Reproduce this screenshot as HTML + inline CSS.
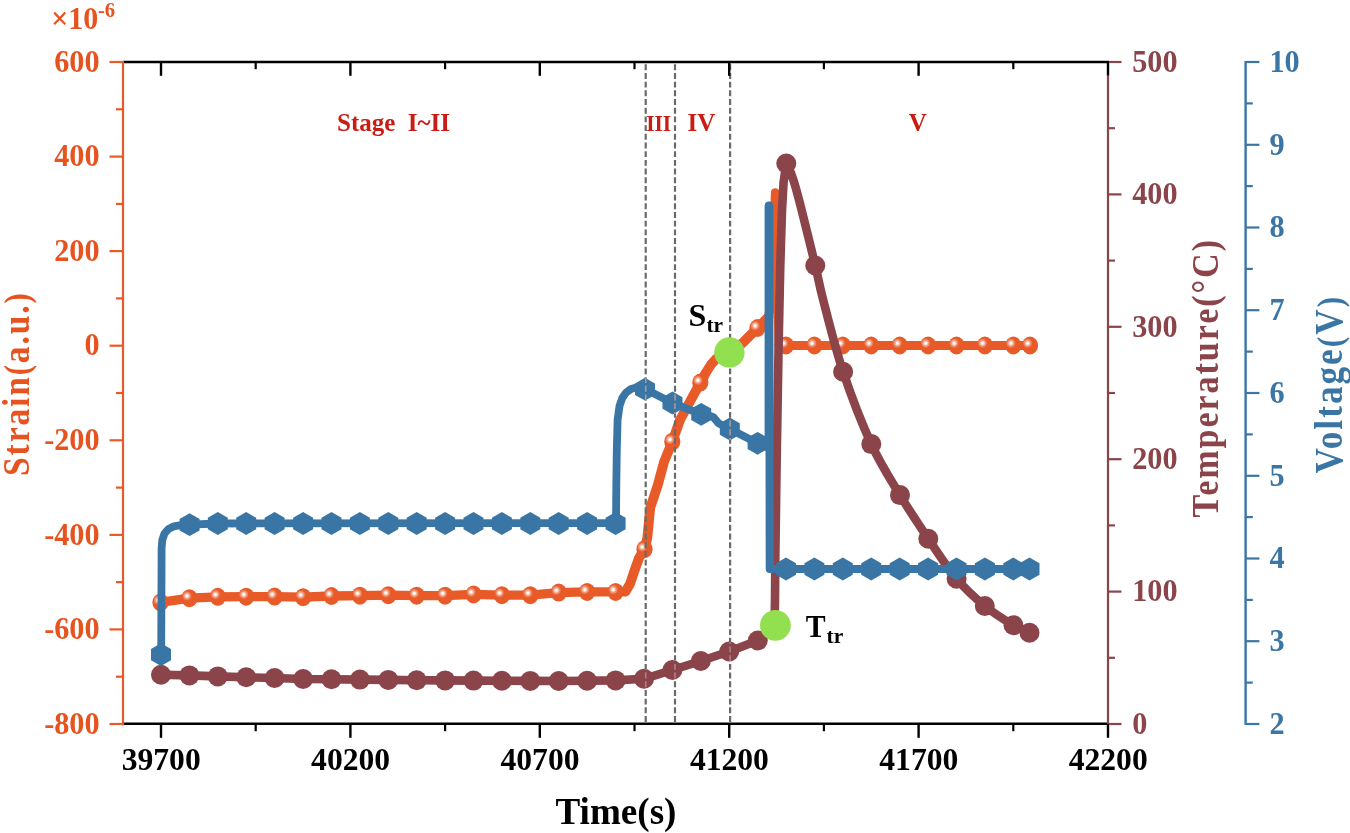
<!DOCTYPE html>
<html><head><meta charset="utf-8"><title>Chart</title>
<style>
html,body{margin:0;padding:0;background:#fff;}
body{width:1350px;height:833px;overflow:hidden;}
svg{display:block;will-change:transform;}
text{font-family:"Liberation Serif",serif;font-weight:bold;}
</style></head><body>
<svg width="1350" height="833" viewBox="0 0 1350 833">
<defs>
<radialGradient id="sph" cx="0.5" cy="0.5" r="0.5"><stop offset="0" stop-color="#fff" stop-opacity="1"/><stop offset="0.2" stop-color="#fff" stop-opacity="0.95"/><stop offset="0.55" stop-color="#fff" stop-opacity="0.42"/><stop offset="1" stop-color="#fff" stop-opacity="0"/></radialGradient>
</defs>
<rect width="1350" height="833" fill="#fff"/>
<g id="orange">
<polyline fill="none" stroke="#E85A28" stroke-width="9.3" stroke-linejoin="round" stroke-linecap="round" points="160.5,602.4 189.4,598.2 217.8,596.8 246.2,596.7 274.6,596.6 303.1,597.2 331.5,596.0 359.9,595.7 388.3,595.2 416.7,595.7 445.1,595.7 473.5,594.4 501.9,595.2 530.3,595.2 558.7,592.6 587.1,591.9 615.6,591.9 625.5,591.6"/>
<polyline fill="none" stroke="#E85A28" stroke-width="9.8" stroke-linejoin="round" stroke-linecap="round" points="625.5,591.6 630.0,584.0 634.0,572.0 639.0,558.0 644.5,549.2 647.3,538.0 650.2,508.0 657.8,485.0 664.0,462.0 672.3,441.7 680.0,420.0 690.0,401.5 700.3,382.6 706.0,372.5 711.0,364.5 716.0,359.0 722.0,355.2 729.5,352.4 737.0,347.5 743.0,342.5 750.0,335.5 757.5,328.0 764.5,321.0 768.5,317.0"/>
<polyline fill="none" stroke="#E85A28" stroke-width="8.6" stroke-linejoin="round" stroke-linecap="round" points="768.5,317.0 771.0,300.0 775.2,192.5 777.5,300.0 779.0,345.5"/>
<polyline fill="none" stroke="#E85A28" stroke-width="9" stroke-linejoin="round" stroke-linecap="round" points="779.0,345.5 786.0,345.5 814.4,345.5 842.8,345.5 871.2,345.5 899.7,345.5 928.1,345.5 956.5,345.5 984.9,345.5 1013.3,345.5 1030.0,345.5"/>
<ellipse cx="160.5" cy="602.4" rx="8.1" ry="9.0" fill="#E85A28"/>
<circle cx="158.1" cy="600.1" r="5.0" fill="url(#sph)"/>
<ellipse cx="189.4" cy="598.2" rx="8.1" ry="9.0" fill="#E85A28"/>
<circle cx="187.0" cy="595.9" r="5.0" fill="url(#sph)"/>
<ellipse cx="217.8" cy="596.8" rx="8.1" ry="9.0" fill="#E85A28"/>
<circle cx="215.4" cy="594.5" r="5.0" fill="url(#sph)"/>
<ellipse cx="246.2" cy="596.7" rx="8.1" ry="9.0" fill="#E85A28"/>
<circle cx="243.8" cy="594.4" r="5.0" fill="url(#sph)"/>
<ellipse cx="274.6" cy="596.6" rx="8.1" ry="9.0" fill="#E85A28"/>
<circle cx="272.2" cy="594.3" r="5.0" fill="url(#sph)"/>
<ellipse cx="303.1" cy="597.2" rx="8.1" ry="9.0" fill="#E85A28"/>
<circle cx="300.7" cy="594.9" r="5.0" fill="url(#sph)"/>
<ellipse cx="331.5" cy="596.0" rx="8.1" ry="9.0" fill="#E85A28"/>
<circle cx="329.1" cy="593.7" r="5.0" fill="url(#sph)"/>
<ellipse cx="359.9" cy="595.7" rx="8.1" ry="9.0" fill="#E85A28"/>
<circle cx="357.5" cy="593.4" r="5.0" fill="url(#sph)"/>
<ellipse cx="388.3" cy="595.2" rx="8.1" ry="9.0" fill="#E85A28"/>
<circle cx="385.9" cy="592.9" r="5.0" fill="url(#sph)"/>
<ellipse cx="416.7" cy="595.7" rx="8.1" ry="9.0" fill="#E85A28"/>
<circle cx="414.3" cy="593.4" r="5.0" fill="url(#sph)"/>
<ellipse cx="445.1" cy="595.7" rx="8.1" ry="9.0" fill="#E85A28"/>
<circle cx="442.7" cy="593.4" r="5.0" fill="url(#sph)"/>
<ellipse cx="473.5" cy="594.4" rx="8.1" ry="9.0" fill="#E85A28"/>
<circle cx="471.1" cy="592.1" r="5.0" fill="url(#sph)"/>
<ellipse cx="501.9" cy="595.2" rx="8.1" ry="9.0" fill="#E85A28"/>
<circle cx="499.5" cy="592.9" r="5.0" fill="url(#sph)"/>
<ellipse cx="530.3" cy="595.2" rx="8.1" ry="9.0" fill="#E85A28"/>
<circle cx="527.9" cy="592.9" r="5.0" fill="url(#sph)"/>
<ellipse cx="558.7" cy="592.6" rx="8.1" ry="9.0" fill="#E85A28"/>
<circle cx="556.3" cy="590.3" r="5.0" fill="url(#sph)"/>
<ellipse cx="587.1" cy="591.9" rx="8.1" ry="9.0" fill="#E85A28"/>
<circle cx="584.8" cy="589.6" r="5.0" fill="url(#sph)"/>
<ellipse cx="615.6" cy="591.9" rx="8.1" ry="9.0" fill="#E85A28"/>
<circle cx="613.2" cy="589.6" r="5.0" fill="url(#sph)"/>
<ellipse cx="644.5" cy="549.2" rx="8.1" ry="9.0" fill="#E85A28"/>
<circle cx="642.1" cy="546.9" r="5.0" fill="url(#sph)"/>
<ellipse cx="672.3" cy="441.7" rx="8.1" ry="9.0" fill="#E85A28"/>
<circle cx="669.9" cy="439.4" r="5.0" fill="url(#sph)"/>
<ellipse cx="700.3" cy="382.6" rx="8.1" ry="9.0" fill="#E85A28"/>
<circle cx="697.9" cy="380.3" r="5.0" fill="url(#sph)"/>
<ellipse cx="757.5" cy="328.0" rx="8.1" ry="9.0" fill="#E85A28"/>
<circle cx="755.1" cy="325.7" r="5.0" fill="url(#sph)"/>
<ellipse cx="786.0" cy="345.5" rx="8.1" ry="9.0" fill="#E85A28"/>
<circle cx="783.6" cy="343.2" r="5.0" fill="url(#sph)"/>
<ellipse cx="814.4" cy="345.5" rx="8.1" ry="9.0" fill="#E85A28"/>
<circle cx="812.0" cy="343.2" r="5.0" fill="url(#sph)"/>
<ellipse cx="842.8" cy="345.5" rx="8.1" ry="9.0" fill="#E85A28"/>
<circle cx="840.4" cy="343.2" r="5.0" fill="url(#sph)"/>
<ellipse cx="871.2" cy="345.5" rx="8.1" ry="9.0" fill="#E85A28"/>
<circle cx="868.9" cy="343.2" r="5.0" fill="url(#sph)"/>
<ellipse cx="899.7" cy="345.5" rx="8.1" ry="9.0" fill="#E85A28"/>
<circle cx="897.3" cy="343.2" r="5.0" fill="url(#sph)"/>
<ellipse cx="928.1" cy="345.5" rx="8.1" ry="9.0" fill="#E85A28"/>
<circle cx="925.7" cy="343.2" r="5.0" fill="url(#sph)"/>
<ellipse cx="956.5" cy="345.5" rx="8.1" ry="9.0" fill="#E85A28"/>
<circle cx="954.1" cy="343.2" r="5.0" fill="url(#sph)"/>
<ellipse cx="984.9" cy="345.5" rx="8.1" ry="9.0" fill="#E85A28"/>
<circle cx="982.5" cy="343.2" r="5.0" fill="url(#sph)"/>
<ellipse cx="1013.3" cy="345.5" rx="8.1" ry="9.0" fill="#E85A28"/>
<circle cx="1010.9" cy="343.2" r="5.0" fill="url(#sph)"/>
<ellipse cx="1030.0" cy="345.5" rx="8.1" ry="9.0" fill="#E85A28"/>
<circle cx="1027.6" cy="343.2" r="5.0" fill="url(#sph)"/>
</g>
<g id="dash" stroke="#6a6a6a" stroke-width="2.2" stroke-dasharray="5.9 2.79" fill="none">
<line x1="645.7" y1="64.3" x2="645.7" y2="723.0"/>
<line x1="675.0" y1="64.3" x2="675.0" y2="723.0"/>
<line x1="730.1" y1="64.3" x2="730.1" y2="723.0"/>
</g>
<g id="brown">
<path d="M161.0,674.8 L189.4,675.4 L217.8,676.4 L246.2,677.3 L274.6,678.0 L303.1,679.0 L331.5,679.3 L359.9,679.6 L388.3,679.9 L416.7,680.2 L445.1,680.4 L473.5,680.6 L501.9,680.8 L530.3,680.9 L558.7,681.0 L587.1,680.8 L615.6,680.4 L644.0,678.8 L672.4,670.0 L700.8,661.0 L729.2,651.5 L757.8,640.5 L766.0,634.5 L771.5,629.0 L774.6,620.0 L775.0,600.0 L775.3,560.0 L776.5,470.0 L778.6,345.0 L780.3,265.0 L782.0,210.0 L783.6,182.0 L786.3,163.5 C788.5,165.2 790.8,172.4 793.4,180.2 C796.0,187.9 798.0,195.8 801.6,210.0 C805.2,224.2 811.7,250.5 815.3,265.5 C818.9,280.5 818.6,282.3 823.2,300.0 C827.8,317.7 835.1,347.7 843.1,371.7 C851.1,395.7 861.8,423.5 871.3,444.1 C880.8,464.7 890.5,479.3 900.0,495.1 C909.5,510.9 918.9,524.8 928.3,538.7 C937.7,552.7 947.2,567.6 956.6,578.8 C966.0,590.0 975.3,598.2 984.8,606.0 C994.3,613.8 1006.0,620.8 1013.5,625.3 C1021.0,629.8 1026.8,631.5 1029.5,632.8" fill="none" stroke="#8B444A" stroke-width="8.6" stroke-linejoin="round" stroke-linecap="round"/>
<circle cx="161.0" cy="674.8" r="10" fill="#8B444A"/>
<circle cx="189.4" cy="675.4" r="10" fill="#8B444A"/>
<circle cx="217.8" cy="676.4" r="10" fill="#8B444A"/>
<circle cx="246.2" cy="677.3" r="10" fill="#8B444A"/>
<circle cx="274.6" cy="678.0" r="10" fill="#8B444A"/>
<circle cx="303.1" cy="679.0" r="10" fill="#8B444A"/>
<circle cx="331.5" cy="679.3" r="10" fill="#8B444A"/>
<circle cx="359.9" cy="679.6" r="10" fill="#8B444A"/>
<circle cx="388.3" cy="679.9" r="10" fill="#8B444A"/>
<circle cx="416.7" cy="680.2" r="10" fill="#8B444A"/>
<circle cx="445.1" cy="680.4" r="10" fill="#8B444A"/>
<circle cx="473.5" cy="680.6" r="10" fill="#8B444A"/>
<circle cx="501.9" cy="680.8" r="10" fill="#8B444A"/>
<circle cx="530.3" cy="680.9" r="10" fill="#8B444A"/>
<circle cx="558.7" cy="681.0" r="10" fill="#8B444A"/>
<circle cx="587.1" cy="680.8" r="10" fill="#8B444A"/>
<circle cx="615.6" cy="680.4" r="10" fill="#8B444A"/>
<circle cx="644.0" cy="678.8" r="10" fill="#8B444A"/>
<circle cx="672.4" cy="670.0" r="10" fill="#8B444A"/>
<circle cx="700.8" cy="661.0" r="10" fill="#8B444A"/>
<circle cx="729.2" cy="651.5" r="10" fill="#8B444A"/>
<circle cx="757.8" cy="640.5" r="10" fill="#8B444A"/>
<circle cx="786.3" cy="163.5" r="10" fill="#8B444A"/>
<circle cx="815.3" cy="265.5" r="10" fill="#8B444A"/>
<circle cx="843.1" cy="371.7" r="10" fill="#8B444A"/>
<circle cx="871.3" cy="444.1" r="10" fill="#8B444A"/>
<circle cx="900.0" cy="495.1" r="10" fill="#8B444A"/>
<circle cx="928.3" cy="538.7" r="10" fill="#8B444A"/>
<circle cx="956.6" cy="578.8" r="10" fill="#8B444A"/>
<circle cx="984.8" cy="606.0" r="10" fill="#8B444A"/>
<circle cx="1013.5" cy="625.3" r="10" fill="#8B444A"/>
<circle cx="1029.5" cy="632.8" r="10" fill="#8B444A"/>
</g>
<g id="blue">
<polyline fill="none" stroke="#3A76A5" stroke-width="7.8" stroke-linejoin="round" stroke-linecap="round" points="161.2,655.2 161.6,548.0 162.3,540.0 164.5,533.5 168.5,529.0 174.0,526.3 181.0,525.0 189.5,524.6 217.8,523.5 616.0,523.0 616.3,485.0 616.8,450.0 617.6,420.0 619.5,406.0 622.3,398.0 626.0,392.6 631.0,389.0 638.0,387.0 645.0,389.0 672.6,403.0 701.2,414.3 708.0,415.3 713.5,417.2 718.5,423.3 729.8,429.0 757.6,443.3 769.3,448.0"/>
<polyline fill="none" stroke="#3A76A5" stroke-width="8.6" stroke-linejoin="round" stroke-linecap="round" points="768.9,448.0 768.9,205.8"/>
<polyline fill="none" stroke="#3A76A5" stroke-width="8.0" stroke-linejoin="round" stroke-linecap="round" points="769.1,205.8 769.7,569.0 1029.5,569.0"/>
<polygon fill="#3A76A5" points="161.0,643.2 171.0,648.9 171.0,660.3 161.0,666.0 151.0,660.3 151.0,648.9"/>
<polygon fill="#3A76A5" points="189.6,513.3 199.6,519.0 199.6,530.4 189.6,536.1 179.6,530.4 179.6,519.0"/>
<polygon fill="#3A76A5" points="217.8,512.1 227.8,517.8 227.8,529.2 217.8,534.9 207.8,529.2 207.8,517.8"/>
<polygon fill="#3A76A5" points="246.2,512.1 256.2,517.8 256.2,529.2 246.2,534.9 236.2,529.2 236.2,517.8"/>
<polygon fill="#3A76A5" points="274.6,512.1 284.6,517.8 284.6,529.2 274.6,534.9 264.6,529.2 264.6,517.8"/>
<polygon fill="#3A76A5" points="303.1,512.1 313.1,517.8 313.1,529.2 303.1,534.9 293.1,529.2 293.1,517.8"/>
<polygon fill="#3A76A5" points="331.5,512.1 341.5,517.8 341.5,529.2 331.5,534.9 321.5,529.2 321.5,517.8"/>
<polygon fill="#3A76A5" points="359.9,512.1 369.9,517.8 369.9,529.2 359.9,534.9 349.9,529.2 349.9,517.8"/>
<polygon fill="#3A76A5" points="388.3,512.1 398.3,517.8 398.3,529.2 388.3,534.9 378.3,529.2 378.3,517.8"/>
<polygon fill="#3A76A5" points="416.7,512.1 426.7,517.8 426.7,529.2 416.7,534.9 406.7,529.2 406.7,517.8"/>
<polygon fill="#3A76A5" points="445.1,512.1 455.1,517.8 455.1,529.2 445.1,534.9 435.1,529.2 435.1,517.8"/>
<polygon fill="#3A76A5" points="473.5,512.1 483.5,517.8 483.5,529.2 473.5,534.9 463.5,529.2 463.5,517.8"/>
<polygon fill="#3A76A5" points="501.9,512.1 511.9,517.8 511.9,529.2 501.9,534.9 491.9,529.2 491.9,517.8"/>
<polygon fill="#3A76A5" points="530.3,512.1 540.3,517.8 540.3,529.2 530.3,534.9 520.3,529.2 520.3,517.8"/>
<polygon fill="#3A76A5" points="558.7,512.1 568.7,517.8 568.7,529.2 558.7,534.9 548.7,529.2 548.7,517.8"/>
<polygon fill="#3A76A5" points="587.1,512.1 597.1,517.8 597.1,529.2 587.1,534.9 577.1,529.2 577.1,517.8"/>
<polygon fill="#3A76A5" points="615.6,512.1 625.6,517.8 625.6,529.2 615.6,534.9 605.6,529.2 605.6,517.8"/>
<polygon fill="#3A76A5" points="645.0,377.8 655.0,383.5 655.0,394.9 645.0,400.6 635.0,394.9 635.0,383.5"/>
<polygon fill="#3A76A5" points="672.5,391.6 682.5,397.3 682.5,408.7 672.5,414.4 662.5,408.7 662.5,397.3"/>
<polygon fill="#3A76A5" points="701.2,402.9 711.2,408.6 711.2,420.0 701.2,425.7 691.2,420.0 691.2,408.6"/>
<polygon fill="#3A76A5" points="729.8,417.6 739.8,423.3 739.8,434.7 729.8,440.4 719.8,434.7 719.8,423.3"/>
<polygon fill="#3A76A5" points="757.6,431.9 767.6,437.6 767.6,449.0 757.6,454.7 747.6,449.0 747.6,437.6"/>
<polygon fill="#3A76A5" points="786.0,557.6 796.0,563.3 796.0,574.7 786.0,580.4 776.0,574.7 776.0,563.3"/>
<polygon fill="#3A76A5" points="814.4,557.6 824.4,563.3 824.4,574.7 814.4,580.4 804.4,574.7 804.4,563.3"/>
<polygon fill="#3A76A5" points="842.8,557.6 852.8,563.3 852.8,574.7 842.8,580.4 832.8,574.7 832.8,563.3"/>
<polygon fill="#3A76A5" points="871.2,557.6 881.2,563.3 881.2,574.7 871.2,580.4 861.2,574.7 861.2,563.3"/>
<polygon fill="#3A76A5" points="899.7,557.6 909.7,563.3 909.7,574.7 899.7,580.4 889.7,574.7 889.7,563.3"/>
<polygon fill="#3A76A5" points="928.1,557.6 938.1,563.3 938.1,574.7 928.1,580.4 918.1,574.7 918.1,563.3"/>
<polygon fill="#3A76A5" points="956.5,557.6 966.5,563.3 966.5,574.7 956.5,580.4 946.5,574.7 946.5,563.3"/>
<polygon fill="#3A76A5" points="984.9,557.6 994.9,563.3 994.9,574.7 984.9,580.4 974.9,574.7 974.9,563.3"/>
<polygon fill="#3A76A5" points="1013.3,557.6 1023.3,563.3 1023.3,574.7 1013.3,580.4 1003.3,574.7 1003.3,563.3"/>
<polygon fill="#3A76A5" points="1029.5,557.6 1039.5,563.3 1039.5,574.7 1029.5,580.4 1019.5,574.7 1019.5,563.3"/>
</g>
<g stroke="#b89a86" stroke-width="1.5" stroke-dasharray="5.9 2.79" fill="none">
<line x1="645.7" y1="378.0" x2="645.7" y2="401.0" stroke-dashoffset="0.86"/>
<line x1="675.0" y1="392.0" x2="675.0" y2="414.0" stroke-dashoffset="6.17"/>
<line x1="730.1" y1="418.0" x2="730.1" y2="440.0" stroke-dashoffset="6.10"/>
</g>
<g stroke="#a9898c" stroke-width="1.5" stroke-dasharray="5.9 2.79" fill="none">
<line x1="645.7" y1="669.0" x2="645.7" y2="689.0" stroke-dashoffset="5.09"/>
<line x1="675.0" y1="660.0" x2="675.0" y2="680.0" stroke-dashoffset="4.78"/>
<line x1="730.1" y1="642.0" x2="730.1" y2="662.0" stroke-dashoffset="4.16"/>
</g>
<circle cx="729.4" cy="352.4" r="15.2" fill="#92E050"/>
<circle cx="775.4" cy="625.4" r="15.4" fill="#92E050"/>
<g id="axes" fill="none">
<line x1="123.0" y1="62.0" x2="1109.0" y2="62.0" stroke="#000" stroke-width="2.6"/>
<line x1="123.0" y1="723.7" x2="1109.0" y2="723.7" stroke="#000" stroke-width="2.6"/>
<line x1="161.0" y1="62.0" x2="161.0" y2="75.8" stroke="#000" stroke-width="2.4"/>
<line x1="161.0" y1="724.0" x2="161.0" y2="737.8" stroke="#000" stroke-width="2.4"/>
<line x1="255.7" y1="62.0" x2="255.7" y2="69.2" stroke="#000" stroke-width="2.2"/>
<line x1="255.7" y1="724.0" x2="255.7" y2="731.2" stroke="#000" stroke-width="2.2"/>
<line x1="350.4" y1="62.0" x2="350.4" y2="75.8" stroke="#000" stroke-width="2.4"/>
<line x1="350.4" y1="724.0" x2="350.4" y2="737.8" stroke="#000" stroke-width="2.4"/>
<line x1="445.1" y1="62.0" x2="445.1" y2="69.2" stroke="#000" stroke-width="2.2"/>
<line x1="445.1" y1="724.0" x2="445.1" y2="731.2" stroke="#000" stroke-width="2.2"/>
<line x1="539.8" y1="62.0" x2="539.8" y2="75.8" stroke="#000" stroke-width="2.4"/>
<line x1="539.8" y1="724.0" x2="539.8" y2="737.8" stroke="#000" stroke-width="2.4"/>
<line x1="634.5" y1="62.0" x2="634.5" y2="69.2" stroke="#000" stroke-width="2.2"/>
<line x1="634.5" y1="724.0" x2="634.5" y2="731.2" stroke="#000" stroke-width="2.2"/>
<line x1="729.2" y1="62.0" x2="729.2" y2="75.8" stroke="#000" stroke-width="2.4"/>
<line x1="729.2" y1="724.0" x2="729.2" y2="737.8" stroke="#000" stroke-width="2.4"/>
<line x1="823.9" y1="62.0" x2="823.9" y2="69.2" stroke="#000" stroke-width="2.2"/>
<line x1="823.9" y1="724.0" x2="823.9" y2="731.2" stroke="#000" stroke-width="2.2"/>
<line x1="918.6" y1="62.0" x2="918.6" y2="75.8" stroke="#000" stroke-width="2.4"/>
<line x1="918.6" y1="724.0" x2="918.6" y2="737.8" stroke="#000" stroke-width="2.4"/>
<line x1="1013.3" y1="62.0" x2="1013.3" y2="69.2" stroke="#000" stroke-width="2.2"/>
<line x1="1013.3" y1="724.0" x2="1013.3" y2="731.2" stroke="#000" stroke-width="2.2"/>
<line x1="1108.0" y1="62.0" x2="1108.0" y2="75.8" stroke="#000" stroke-width="2.4"/>
<line x1="1108.0" y1="724.0" x2="1108.0" y2="737.8" stroke="#000" stroke-width="2.4"/>
<line x1="123.0" y1="61.0" x2="123.0" y2="725.3" stroke="#E85A28" stroke-width="2.2"/>
<line x1="109.5" y1="62.0" x2="123.0" y2="62.0" stroke="#E85A28" stroke-width="2.2"/>
<line x1="116.0" y1="109.3" x2="123.0" y2="109.3" stroke="#E85A28" stroke-width="2.2"/>
<line x1="109.5" y1="156.6" x2="123.0" y2="156.6" stroke="#E85A28" stroke-width="2.2"/>
<line x1="116.0" y1="203.9" x2="123.0" y2="203.9" stroke="#E85A28" stroke-width="2.2"/>
<line x1="109.5" y1="251.1" x2="123.0" y2="251.1" stroke="#E85A28" stroke-width="2.2"/>
<line x1="116.0" y1="298.4" x2="123.0" y2="298.4" stroke="#E85A28" stroke-width="2.2"/>
<line x1="109.5" y1="345.7" x2="123.0" y2="345.7" stroke="#E85A28" stroke-width="2.2"/>
<line x1="116.0" y1="393.0" x2="123.0" y2="393.0" stroke="#E85A28" stroke-width="2.2"/>
<line x1="109.5" y1="440.3" x2="123.0" y2="440.3" stroke="#E85A28" stroke-width="2.2"/>
<line x1="116.0" y1="487.6" x2="123.0" y2="487.6" stroke="#E85A28" stroke-width="2.2"/>
<line x1="109.5" y1="534.9" x2="123.0" y2="534.9" stroke="#E85A28" stroke-width="2.2"/>
<line x1="116.0" y1="582.1" x2="123.0" y2="582.1" stroke="#E85A28" stroke-width="2.2"/>
<line x1="109.5" y1="629.4" x2="123.0" y2="629.4" stroke="#E85A28" stroke-width="2.2"/>
<line x1="116.0" y1="676.7" x2="123.0" y2="676.7" stroke="#E85A28" stroke-width="2.2"/>
<line x1="109.5" y1="724.0" x2="123.0" y2="724.0" stroke="#E85A28" stroke-width="2.2"/>
<line x1="1108.0" y1="75.8" x2="1108.0" y2="724.0" stroke="#8B444A" stroke-width="2.2"/>
<line x1="1109.0" y1="62.0" x2="1121.5" y2="62.0" stroke="#8B444A" stroke-width="2.2"/>
<line x1="1109.0" y1="128.2" x2="1115.0" y2="128.2" stroke="#8B444A" stroke-width="2.2"/>
<line x1="1109.0" y1="194.4" x2="1121.5" y2="194.4" stroke="#8B444A" stroke-width="2.2"/>
<line x1="1109.0" y1="260.6" x2="1115.0" y2="260.6" stroke="#8B444A" stroke-width="2.2"/>
<line x1="1109.0" y1="326.8" x2="1121.5" y2="326.8" stroke="#8B444A" stroke-width="2.2"/>
<line x1="1109.0" y1="393.0" x2="1115.0" y2="393.0" stroke="#8B444A" stroke-width="2.2"/>
<line x1="1109.0" y1="459.2" x2="1121.5" y2="459.2" stroke="#8B444A" stroke-width="2.2"/>
<line x1="1109.0" y1="525.4" x2="1115.0" y2="525.4" stroke="#8B444A" stroke-width="2.2"/>
<line x1="1109.0" y1="591.6" x2="1121.5" y2="591.6" stroke="#8B444A" stroke-width="2.2"/>
<line x1="1109.0" y1="657.8" x2="1115.0" y2="657.8" stroke="#8B444A" stroke-width="2.2"/>
<line x1="1109.0" y1="724.0" x2="1121.5" y2="724.0" stroke="#8B444A" stroke-width="2.2"/>
<line x1="1245.6" y1="60.9" x2="1245.6" y2="725.1" stroke="#3A76A5" stroke-width="2.4"/>
<line x1="1245.6" y1="62.0" x2="1259.4" y2="62.0" stroke="#3A76A5" stroke-width="2.2"/>
<line x1="1245.6" y1="103.4" x2="1252.8" y2="103.4" stroke="#3A76A5" stroke-width="2.2"/>
<line x1="1245.6" y1="144.8" x2="1259.4" y2="144.8" stroke="#3A76A5" stroke-width="2.2"/>
<line x1="1245.6" y1="186.1" x2="1252.8" y2="186.1" stroke="#3A76A5" stroke-width="2.2"/>
<line x1="1245.6" y1="227.5" x2="1259.4" y2="227.5" stroke="#3A76A5" stroke-width="2.2"/>
<line x1="1245.6" y1="268.9" x2="1252.8" y2="268.9" stroke="#3A76A5" stroke-width="2.2"/>
<line x1="1245.6" y1="310.2" x2="1259.4" y2="310.2" stroke="#3A76A5" stroke-width="2.2"/>
<line x1="1245.6" y1="351.6" x2="1252.8" y2="351.6" stroke="#3A76A5" stroke-width="2.2"/>
<line x1="1245.6" y1="393.0" x2="1259.4" y2="393.0" stroke="#3A76A5" stroke-width="2.2"/>
<line x1="1245.6" y1="434.4" x2="1252.8" y2="434.4" stroke="#3A76A5" stroke-width="2.2"/>
<line x1="1245.6" y1="475.8" x2="1259.4" y2="475.8" stroke="#3A76A5" stroke-width="2.2"/>
<line x1="1245.6" y1="517.1" x2="1252.8" y2="517.1" stroke="#3A76A5" stroke-width="2.2"/>
<line x1="1245.6" y1="558.5" x2="1259.4" y2="558.5" stroke="#3A76A5" stroke-width="2.2"/>
<line x1="1245.6" y1="599.9" x2="1252.8" y2="599.9" stroke="#3A76A5" stroke-width="2.2"/>
<line x1="1245.6" y1="641.2" x2="1259.4" y2="641.2" stroke="#3A76A5" stroke-width="2.2"/>
<line x1="1245.6" y1="682.6" x2="1252.8" y2="682.6" stroke="#3A76A5" stroke-width="2.2"/>
<line x1="1245.6" y1="724.0" x2="1259.4" y2="724.0" stroke="#3A76A5" stroke-width="2.2"/>
</g>
<g font-size="32">
<text transform="translate(99.6,71.7) scale(0.945,1)" text-anchor="end" fill="#E6531F">600</text>
<text transform="translate(99.6,166.3) scale(0.945,1)" text-anchor="end" fill="#E6531F">400</text>
<text transform="translate(99.6,260.8) scale(0.945,1)" text-anchor="end" fill="#E6531F">200</text>
<text transform="translate(99.6,355.4) scale(0.945,1)" text-anchor="end" fill="#E6531F">0</text>
<text transform="translate(99.6,450.0) scale(0.945,1)" text-anchor="end" fill="#E6531F">-200</text>
<text transform="translate(99.6,544.6) scale(0.945,1)" text-anchor="end" fill="#E6531F">-400</text>
<text transform="translate(99.6,639.1) scale(0.945,1)" text-anchor="end" fill="#E6531F">-600</text>
<text transform="translate(99.6,733.7) scale(0.945,1)" text-anchor="end" fill="#E6531F">-800</text>
<text transform="translate(161.2,770.4) scale(0.988,1)" text-anchor="middle" fill="#000">39700</text>
<text transform="translate(350.6,770.4) scale(0.988,1)" text-anchor="middle" fill="#000">40200</text>
<text transform="translate(540.0,770.4) scale(0.988,1)" text-anchor="middle" fill="#000">40700</text>
<text transform="translate(729.4,770.4) scale(0.988,1)" text-anchor="middle" fill="#000">41200</text>
<text transform="translate(918.8,770.4) scale(0.988,1)" text-anchor="middle" fill="#000">41700</text>
<text transform="translate(1108.2,770.4) scale(0.988,1)" text-anchor="middle" fill="#000">42200</text>
<text transform="translate(1132.2,71.8) scale(0.945,1)" fill="#8B444A">500</text>
<text transform="translate(1132.2,204.2) scale(0.945,1)" fill="#8B444A">400</text>
<text transform="translate(1132.2,336.6) scale(0.945,1)" fill="#8B444A">300</text>
<text transform="translate(1132.2,469.0) scale(0.945,1)" fill="#8B444A">200</text>
<text transform="translate(1132.2,601.4) scale(0.945,1)" fill="#8B444A">100</text>
<text transform="translate(1132.2,733.8) scale(0.945,1)" fill="#8B444A">0</text>
<text transform="translate(1269.4,71.8) scale(0.945,1)" fill="#3A76A5">10</text>
<text transform="translate(1269.4,154.6) scale(0.945,1)" fill="#3A76A5">9</text>
<text transform="translate(1269.4,237.3) scale(0.945,1)" fill="#3A76A5">8</text>
<text transform="translate(1269.4,320.1) scale(0.945,1)" fill="#3A76A5">7</text>
<text transform="translate(1269.4,402.8) scale(0.945,1)" fill="#3A76A5">6</text>
<text transform="translate(1269.4,485.6) scale(0.945,1)" fill="#3A76A5">5</text>
<text transform="translate(1269.4,568.3) scale(0.945,1)" fill="#3A76A5">4</text>
<text transform="translate(1269.4,651.0) scale(0.945,1)" fill="#3A76A5">3</text>
<text transform="translate(1269.4,733.8) scale(0.945,1)" fill="#3A76A5">2</text>
</g>
<text transform="translate(51.2,29.4) scale(0.985,1)" font-size="30.5" fill="#E6531F">×10<tspan font-size="21" dy="-12.4" dx="-0.4">-6</tspan></text>
<text transform="translate(28.6,384.6) rotate(-90) scale(0.88,1)" text-anchor="middle" font-size="38" textLength="207.5" lengthAdjust="spacing" fill="#E6531F">Strain<tspan font-size="35">(</tspan>a.u.<tspan font-size="35">)</tspan></text>
<text transform="translate(616,824) scale(0.99,1)" text-anchor="middle" font-size="37.5" fill="#000">Time(s)</text>
<text transform="translate(1218,378.7) rotate(-90) scale(0.92,1)" text-anchor="middle" font-size="37" textLength="301.5" lengthAdjust="spacing" fill="#8B444A">Temperature(°C)</text>
<text transform="translate(1341.8,385.2) rotate(-90) scale(0.87,1)" text-anchor="middle" font-size="40.5" textLength="203" lengthAdjust="spacing" fill="#3A76A5">Voltage<tspan font-size="36">(</tspan>V<tspan font-size="36">)</tspan></text>
<g fill="#C81C14">
<text x="337" y="130.6" font-size="25" xml:space="preserve">Stage  I~II</text>
<text transform="translate(646.2,131.2) scale(0.9,1)" font-size="23.8">III</text>
<text x="687.6" y="130.6" font-size="25">IV</text>
<text transform="translate(908.8,130.7) scale(0.98,1)" font-size="25.6">V</text>
</g>
<text x="688.6" y="326.2" font-size="32" fill="#000">S<tspan font-size="21.5" dy="5.6">tr</tspan></text>
<text transform="translate(805.7,636.8) scale(0.93,1)" font-size="32" fill="#000">T</text>
<text x="826.5" y="642.6" font-size="21.5" fill="#000">tr</text>
</svg>
</body></html>
